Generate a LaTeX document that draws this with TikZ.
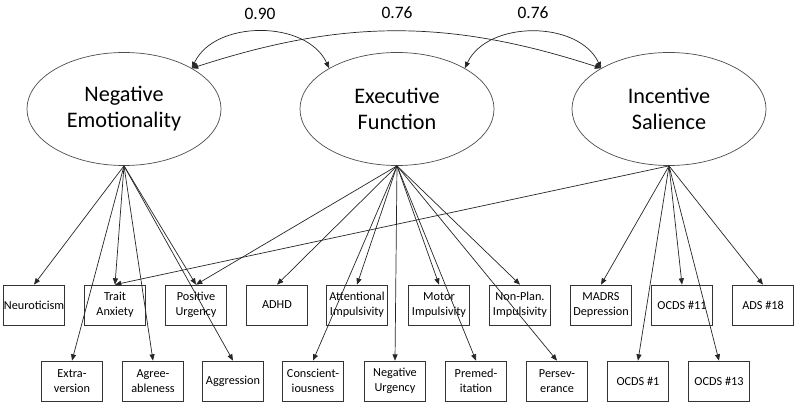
\documentclass[tikz,border=0pt]{standalone}
\usepackage{fontspec}
\setmainfont{Carlito}
\usetikzlibrary{shapes.geometric,arrows.meta}
\tikzset{
	lat/.style={draw=black!70,ellipse,minimum width=4.85cm,minimum height=2.825cm,inner sep=0pt,align=center,font=\fontsize{15.8}{18.4}\selectfont},
	obs/.style={draw=black!80,rectangle,minimum width=1.525cm,minimum height=1cm,inner sep=0pt,align=center,font=\fontsize{8.7}{10.4}\selectfont},
	ld/.style={-{Triangle[length=4.5pt,width=3.6pt]},black!85},
	cv/.style={{Triangle[length=4.5pt,width=3.6pt]}-{Triangle[length=4.5pt,width=3.6pt]},black!85},
	val/.style={font=\fontsize{12.4}{14}\selectfont},
}
\begin{document}
\begin{tikzpicture}[x=0.025cm,y=0.025cm,line width=0.5pt]
	\useasboundingbox (0,0) rectangle (800,402);

	\node[lat] (ne) at (124,293) {Negative\\Emotionality};
	\node[lat] (ef) at (397,293) {Executive\\Function};
	\node[lat] (is) at (669,293) {Incentive\\Salience};

	\node[obs] (neu) at (34,97) {Neuroticism};
	\node[obs] (tan) at (115,97) {Trait\\Anxiety};
	\node[obs] (pur) at (196,97) {Positive\\Urgency};
	\node[obs] (adhd) at (277,97) {ADHD};
	\node[obs] (ati) at (357,97) {Attentional\\Impulsivity};
	\node[obs] (moi) at (439,97) {Motor\\Impulsivity};
	\node[obs] (npi) at (520,97) {Non-Plan.\\Impulsivity};
	\node[obs] (mad) at (601,97) {MADRS\\Depression};
	\node[obs] (oc11) at (682,97) {OCDS \#11};
	\node[obs] (ads) at (763,97) {ADS \#18};

	\node[obs] (ext) at (72,21) {Extra-\\version};
	\node[obs] (agr) at (153,21) {Agree-\\ableness};
	\node[obs] (agg) at (233,21) {Aggression};
	\node[obs] (con) at (313,21) {Conscient-\\iousness};
	\node[obs] (nur) at (395,21) {Negative\\Urgency};
	\node[obs] (pre) at (476,21) {Premed-\\itation};
	\node[obs] (per) at (557,21) {Persev-\\erance};
	\node[obs] (oc1) at (638,21) {OCDS \#1};
	\node[obs] (oc13) at (719,21) {OCDS \#13};

	\foreach \b in {neu,tan,pur,ext,agr,agg}
		\draw[ld] (ne.south) -- (\b.north);
	\foreach \b in {pur,adhd,ati,moi,npi,con,nur,pre,per}
		\draw[ld] (ef.south) -- (\b.north);
	\foreach \b in {tan,mad,oc11,ads,oc1,oc13}
		\draw[ld] (is.south) -- (\b.north);

	\draw[cv] (ne.31) to[out=65,in=115] (ef.149);
	\draw[cv] (ef.31) to[out=65,in=115] (is.149);
	\draw[cv] (ne.31) to[out=18,in=162] (is.149);

	\node[val] (v1) at (260,388) {0.90};
	\node[val] (v2) at (397,389) {0.76};
	\node[val] (v3) at (533,389) {0.76};
\end{tikzpicture}
\end{document}
